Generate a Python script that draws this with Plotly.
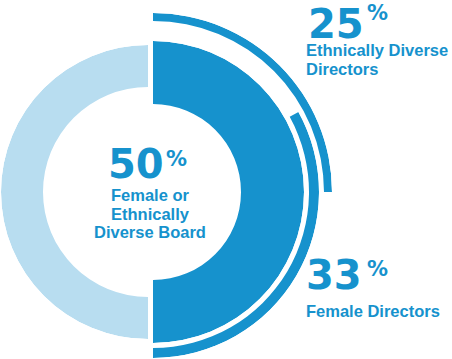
import plotly.graph_objects as go

W, H = 452, 359

# ---- data ----
board_pct = 50      # female or ethnically diverse board
ethnic_pct = 25     # ethnically diverse directors
female_pct = 33     # female directors

board_label = ["Female or", "Ethnically", "Diverse Board"]
ethnic_label = ["Ethnically Diverse", "Directors"]
female_label = ["Female Directors"]

DARK = "#1692CD"
LIGHT = "#B8DDF0"
NUM_FONT = "DejaVu Sans"
LBL_FONT = "Liberation Sans, Arial"


def deg(p):
    return p * 3.6


def px_dom(x0, x1, y0, y1):
    return dict(x=[x0 / W, x1 / W], y=[1 - y1 / H, 1 - y0 / H])


fig = go.Figure()

# light remainder (left half)
rest = 100 - board_pct
fig.add_trace(go.Barpolar(
    subplot="polar", r=[147 - 105], base=[105],
    theta=[deg(board_pct) + deg(rest) / 2], width=[deg(rest)],
    marker=dict(color=LIGHT, line=dict(width=0)), hoverinfo="skip"))

# dark board share (right half)
fig.add_trace(go.Barpolar(
    subplot="polar2", r=[151 - 88], base=[88],
    theta=[deg(board_pct) / 2], width=[deg(board_pct)],
    marker=dict(color=DARK, line=dict(width=0)), hoverinfo="skip"))

# ethnically diverse arc
fig.add_trace(go.Barpolar(
    subplot="polar3", r=[179 - 171], base=[171],
    theta=[deg(ethnic_pct) / 2], width=[deg(ethnic_pct)],
    marker=dict(color=DARK, line=dict(width=0)), hoverinfo="skip"))

# female arc (ends at bottom)
fig.add_trace(go.Barpolar(
    subplot="polar4", r=[166 - 156], base=[156],
    theta=[deg(board_pct) - deg(female_pct) / 2], width=[deg(female_pct)],
    marker=dict(color=DARK, line=dict(width=0)), hoverinfo="skip"))


def polar(R, sector, dom):
    return dict(
        bgcolor="rgba(0,0,0,0)", hole=0, sector=sector, domain=dom,
        radialaxis=dict(visible=False, range=[0, R]),
        angularaxis=dict(visible=False, direction="clockwise", rotation=90),
    )


CX_L, CX, CY = 148, 153, 192
layout_polars = dict(
    polar=polar(147, [90, 270], px_dom(CX_L - 147, CX_L, CY - 147, CY + 147)),
    polar2=polar(151, [-90, 90], px_dom(CX, CX + 151, CY - 151, CY + 151)),
    polar3=polar(179, [0, 90], px_dom(CX, CX + 179, CY - 179, CY)),
    polar4=polar(166, [-90, 30], px_dom(CX, CX + 166, CY - 83, CY + 166)),
)


def ann(text, x, y, size, family, xanchor="left", yanchor="middle"):
    return dict(text=text, x=x / W, y=1 - y / H, xref="paper", yref="paper",
                xanchor=xanchor, yanchor=yanchor, showarrow=False, borderpad=0,
                font=dict(size=size, family=family, color=DARK, weight="bold"))


annotations = []
# centre
annotations.append(ann(f"{board_pct}", 165, 164, 40, NUM_FONT, "right"))
annotations.append(ann("%", 165, 159, 21, NUM_FONT, "left"))
for i, line in enumerate(board_label):
    annotations.append(ann(line, 150, 195 + i * 18.5, 16.5, LBL_FONT, "center"))
# ethnic
annotations.append(ann(f"{ethnic_pct}", 365, 23.5, 40, NUM_FONT, "right"))
annotations.append(ann("%", 366, 13, 21, NUM_FONT, "left"))
for i, line in enumerate(ethnic_label):
    annotations.append(ann(line, 305, 50 + i * 19.5, 16.5, LBL_FONT, "left"))
# female
annotations.append(ann(f"{female_pct}", 363, 275, 40, NUM_FONT, "right"))
annotations.append(ann("%", 366, 269, 21, NUM_FONT, "left"))
for i, line in enumerate(female_label):
    annotations.append(ann(line, 305, 311 + i * 19.5, 16.5, LBL_FONT, "left"))

fig.update_layout(
    width=W, height=H, margin=dict(l=0, r=0, t=0, b=0),
    paper_bgcolor="white", plot_bgcolor="white", showlegend=False,
    annotations=annotations, **layout_polars)

fig.write_html("out.html", config=dict(displayModeBar=False),
               post_script="document.body.style.margin='0';")
